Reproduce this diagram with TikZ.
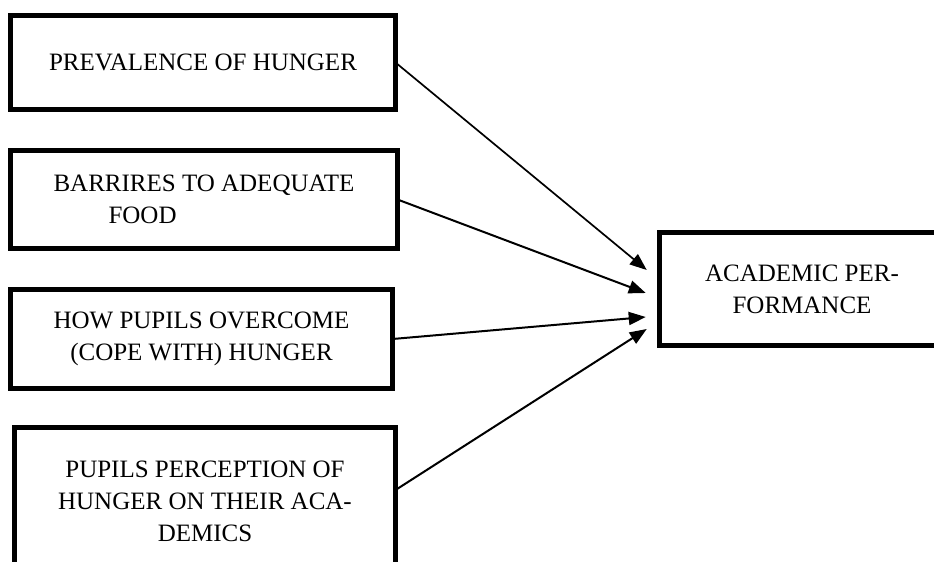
\documentclass[tikz,border=0pt]{standalone}
\usepackage{fontspec}
\setmainfont{Liberation Serif}
\usetikzlibrary{arrows.meta,calc}
\begin{document}
\begin{tikzpicture}[x=1pt,y=-1pt,
  box/.style={draw=black,line width=5pt,rectangle,inner sep=0pt,outer sep=0pt,
    font=\fontsize{25}{32}\selectfont,align=center},
  conn/.style={line width=2pt,-{Triangle[length=17pt,width=13pt]}}]
\clip (0,0) rectangle (934,562);
\fill[white] (0,0) rectangle (934,562);
\node[box,minimum width=385pt,minimum height=94pt] (b1) at (203,62.5) {PREVALENCE OF HUNGER};
\node[box,minimum width=387pt,minimum height=98pt,align=left] (b2) at (204,199.5) {BARRIRES TO ADEQUATE\\\hspace*{55pt}FOOD};
\node[box,minimum width=382pt,minimum height=99pt] (b3) at (201.5,339) {HOW PUPILS OVERCOME\\(COPE WITH) HUNGER};
\node[box,minimum width=381pt,minimum height=147.5pt] (b4) at (205,501) {PUPILS PERCEPTION OF\\HUNGER ON THEIR ACA-\\DEMICS};
\node[box,minimum width=285.5pt,minimum height=113pt] (b5) at (802,289) {ACADEMIC PER-\\FORMANCE};
\coordinate (t1) at ($(b5.west)+(-12.5,-19)$);
\coordinate (t2) at ($(b5.west)+(-13.5,4)$);
\coordinate (t3) at ($(b5.west)+(-13.5,28)$);
\coordinate (t4) at ($(b5.west)+(-12.5,40)$);
\coordinate (s4) at ($(b4.east)+(0,-11)$);
\draw[conn,line width=1.7pt] (b1.east) -- (t1);
\draw[conn] (b2.east) -- (t2);
\draw[conn] (b3.east) -- (t3);
\draw[conn] (s4) -- (t4);
\end{tikzpicture}
\end{document}
